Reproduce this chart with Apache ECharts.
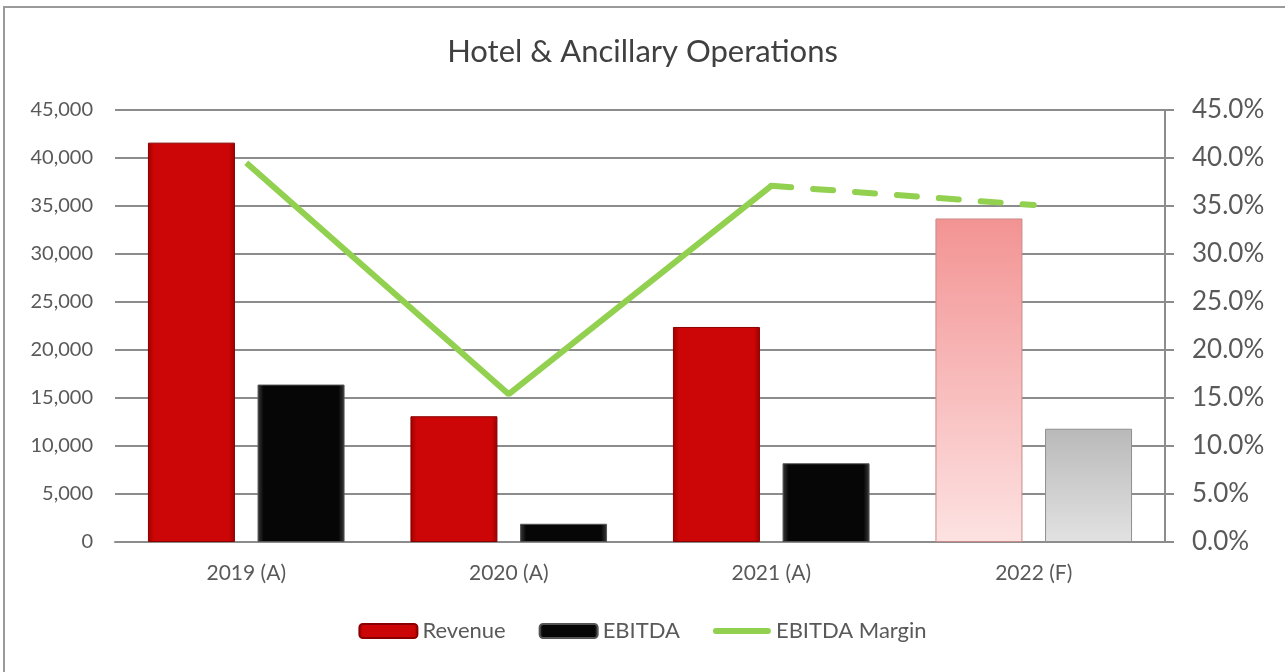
<!DOCTYPE html>
<html>
<head>
<meta charset="utf-8">
<title>Hotel & Ancillary Operations</title>
<script src="https://cdn.jsdelivr.net/npm/echarts@6/dist/echarts.min.js"></script>
<style>
  html, body { margin: 0; padding: 0; background: #fff; overflow: hidden; }
  #frame { position: absolute; left: 3px; top: 6px; width: 1400px; height: 800px;
           border-left: 2px solid #9a9a9a; border-top: 2px solid #9a9a9a; }
  #main { position: absolute; left: 0; top: 0; width: 1285px; height: 672px; }
</style>
</head>
<body>
<div id="frame"></div>
<div id="main"></div>
<script>
// chart data
const categories = ['2019 (A)', '2020 (A)', '2021 (A)', '2022 (F)'];
const revenue = [41600, 13100, 22400, 33700];
const ebitda = [16400, 1900, 8200, 11800];
const margin = [39.5, 15.4, 37.1, 35.1];
const forecastFrom = 3; // index of first forecast year

const font = 'Lato, "Open Sans", sans-serif';
const txt = '#595959';
const grid = '#8c8c8c';

// bevel-ish look for bars
function sideGrad(edge, mid) {
  return new echarts.graphic.LinearGradient(0, 0, 1, 0, [
    { offset: 0, color: edge }, { offset: 0.07, color: mid },
    { offset: 0.93, color: mid }, { offset: 1, color: edge }
  ]);
}
function topGrad(top, bottom) {
  return new echarts.graphic.LinearGradient(0, 0, 0, 1, [
    { offset: 0, color: top }, { offset: 1, color: bottom }
  ]);
}

const revenueData = revenue.map((v, i) => i < forecastFrom ? v : {
  value: v, itemStyle: { color: topGrad('#f39393', '#fde2e2'), borderColor: '#c98a8a' }
});
const ebitdaData = ebitda.map((v, i) => i < forecastFrom ? v : {
  value: v, itemStyle: { color: topGrad('#b9b9b9', '#e2e2e2'), borderColor: '#8f8f8f' }
});
// solid line for actuals, dashed from last actual to forecast
const marginActual = margin.map((v, i) => i < forecastFrom ? v : '-');
const marginForecast = margin.map((v, i) => i >= forecastFrom - 1 ? v : '-');

// thick rounded line for the legend (invisible corner points keep the box 14 high)
const lineIcon = 'path://M0,0L0,0ZM0,14L0,14ZM3,4L55,4A3,3,0,0,1,55,10L3,10A3,3,0,0,1,3,4Z';

const chart = echarts.init(document.getElementById('main'));
chart.setOption({
  animation: false,
  title: {
    text: 'Hotel & Ancillary Operations',
    left: 'center', top: 31,
    textStyle: { fontFamily: font, fontSize: 31, fontWeight: 'normal', color: '#404040' }
  },
  legend: {
    bottom: 25, left: 'center',
    itemWidth: 58, itemHeight: 14, itemGap: 33,
    textStyle: { fontFamily: font, fontSize: 22, color: txt },
    data: ['Revenue', 'EBITDA', { name: 'EBITDA Margin', icon: lineIcon, itemStyle: { color: '#92d050' } }]
  },
  grid: { left: 115, right: 120, top: 110, bottom: 130 },
  xAxis: {
    type: 'category',
    data: categories,
    axisLine: { lineStyle: { color: grid, width: 2 } },
    axisTick: { show: false },
    axisLabel: { fontFamily: font, fontSize: 21, color: txt, margin: 21 }
  },
  yAxis: [
    {
      type: 'value', min: 0, max: 45000, interval: 5000,
      axisLine: { show: false },
      axisTick: { show: false },
      axisLabel: {
        fontFamily: font, fontSize: 20, color: txt, margin: 22,
        formatter: v => v.toLocaleString('en-US')
      },
      splitLine: { lineStyle: { color: grid, width: 2 } }
    },
    {
      type: 'value', min: 0, max: 45, interval: 5,
      axisLine: { show: true, lineStyle: { color: grid, width: 2 } },
      axisTick: { show: true, length: 9, lineStyle: { color: grid, width: 2 } },
      axisLabel: {
        fontFamily: font, fontSize: 26, color: txt, margin: 27,
        formatter: v => v.toFixed(1) + '%'
      },
      splitLine: { show: false }
    }
  ],
  series: [
    {
      name: 'Revenue', type: 'bar', data: revenueData,
      barWidth: 87, barGap: '26%',
      itemStyle: { color: sideGrad('#9e0000', '#cc0606'), borderColor: '#8a0000', borderWidth: 1 }
    },
    {
      name: 'EBITDA', type: 'bar', data: ebitdaData,
      barWidth: 87,
      itemStyle: { color: sideGrad('#3a3a3a', '#060606'), borderColor: '#555555', borderWidth: 1 }
    },
    {
      name: 'EBITDA Margin', type: 'line', yAxisIndex: 1, data: marginActual,
      symbol: 'none', z: 5,
      lineStyle: { color: '#92d050', width: 6 },
      itemStyle: { color: '#92d050' }
    },
    {
      name: 'EBITDA Margin', type: 'line', yAxisIndex: 1, data: marginForecast,
      symbol: 'none', z: 5,
      lineStyle: { color: '#92d050', width: 6, type: [20, 22], cap: 'round' },
      itemStyle: { color: '#92d050' }
    }
  ]
});
</script>
</body>
</html>
